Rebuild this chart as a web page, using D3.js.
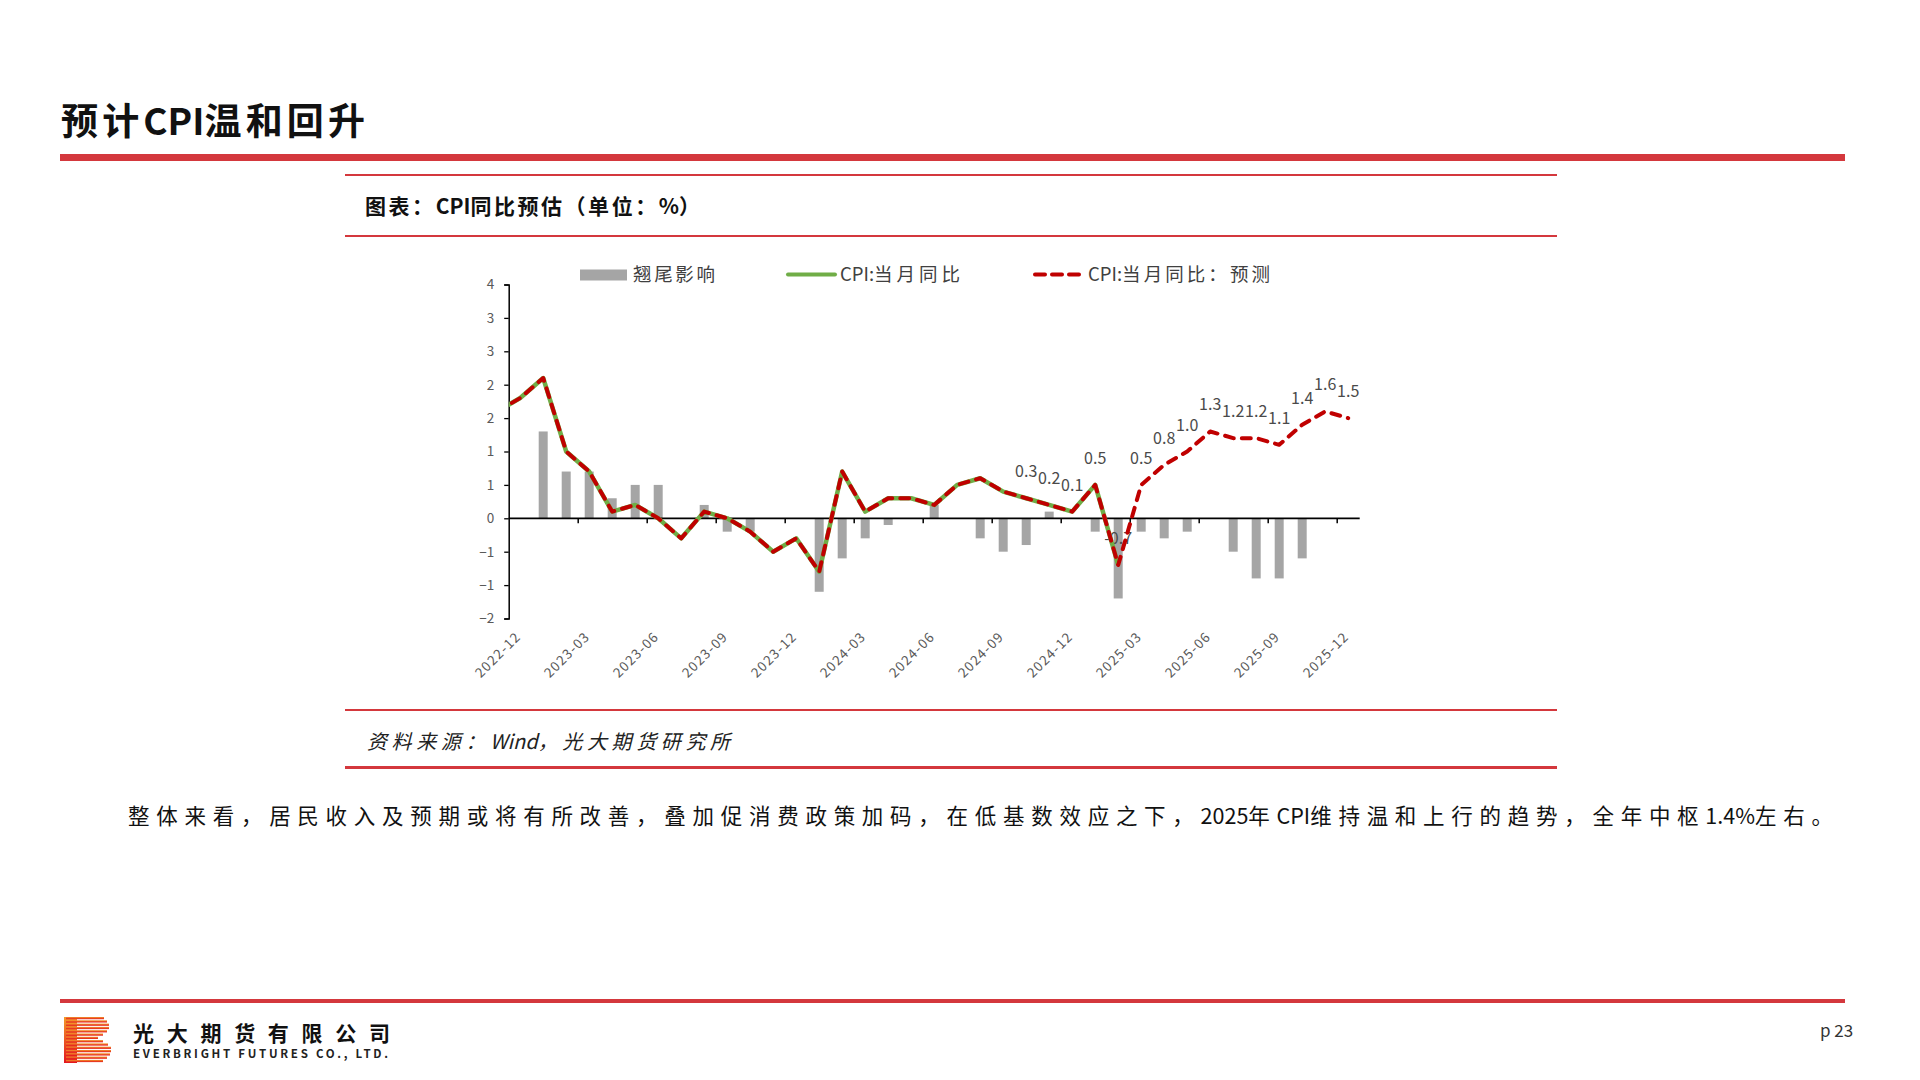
<!DOCTYPE html>
<html><head><meta charset="utf-8">
<script src="https://cdn.jsdelivr.net/npm/d3@7"></script>
<style>
body{margin:0;background:#fff}
svg{display:block}
text{font-family:"Noto Sans CJK SC","Noto Sans",sans-serif}
</style>
</head><body>
<svg id="c" width="1920" height="1080"></svg>
<script>
// ---------------- data ----------------
const pageTitle = "预计CPI温和回升";
const chartTitle = "图表：CPI同比预估（单位：%）";
const sourceText = "资料来源：Wind，光大期货研究所";
const bodyText = "整体来看，居民收入及预期或将有所改善，叠加促消费政策加码，在低基数效应之下，2025年CPI维持温和上行的趋势，全年中枢1.4%左右。";
const legendLabels = ["翘尾影响", "CPI:当月同比", "CPI:当月同比：预测"];

// monthly categories (2022-11 .. 2025-12)
const months = ["2022-11","2022-12",
  "2023-01","2023-02","2023-03","2023-04","2023-05","2023-06","2023-07","2023-08","2023-09","2023-10","2023-11","2023-12",
  "2024-01","2024-02","2024-03","2024-04","2024-05","2024-06","2024-07","2024-08","2024-09","2024-10","2024-11","2024-12",
  "2025-01","2025-02","2025-03","2025-04","2025-05","2025-06","2025-07","2025-08","2025-09","2025-10","2025-11","2025-12"];

// CPI:当月同比 (actual, 2022-11 .. 2025-02)
const cpiActual = [1.6, 1.8,
  2.1, 1.0, 0.7, 0.1, 0.2, 0.0, -0.3, 0.1, 0.0, -0.2, -0.5, -0.3,
  -0.8, 0.7, 0.1, 0.3, 0.3, 0.2, 0.5, 0.6, 0.4, 0.3, 0.2, 0.1,
  0.5, -0.7];

// CPI:当月同比：预测 (2022-11 .. 2025-12)
const cpiForecast = [1.6, 1.8,
  2.1, 1.0, 0.7, 0.1, 0.2, 0.0, -0.3, 0.1, 0.0, -0.2, -0.5, -0.3,
  -0.8, 0.7, 0.1, 0.3, 0.3, 0.2, 0.5, 0.6, 0.4, 0.3, 0.2, 0.1,
  0.5, -0.7, 0.5, 0.8, 1.0, 1.3, 1.2, 1.2, 1.1, 1.4, 1.6, 1.5];

// 翘尾影响 (2023-01 .. 2025-12)
const carryMonths = months.slice(2);
const carryover = [1.3, 0.7, 0.7, 0.3, 0.5, 0.5, 0, 0.2, -0.2, -0.2, 0, 0,
  -1.1, -0.6, -0.3, -0.1, 0, 0.2, 0, -0.3, -0.5, -0.4, 0.1, 0,
  -0.2, -1.2, -0.2, -0.3, -0.2, 0, -0.5, -0.9, -0.9, -0.6, 0, 0];

// data labels shown from this month on (forecast series)
const labelFrom = "2024-10";

const xTickLabels = ["2022-12","2023-03","2023-06","2023-09","2023-12","2024-03","2024-06",
  "2024-09","2024-12","2025-03","2025-06","2025-09","2025-12"];
const yTickValues = [-1.5,-1,-0.5,0,0.5,1,1.5,2,2.5,3,3.5];
const yTickLabels = ["−2","−1","−1","0","1","1","2","2","3","3","4"];

// ---------------- helpers ----------------
const mi = s => { const [y,m] = s.split("-").map(Number); return (y-2022)*12 + (m-12); };
const svg = d3.select("#c");
const RED = "#d4383d";
const isCJK = ch => /[\u3000-\u9fff\uff00-\uffef]/.test(ch);

// text whose CJK characters get extra spacing so the visible run spans targetW
function spacedText(parent, str, x, y, targetW, attrs) {
  const t = parent.append("text").attr("x",x).attr("y",y);
  Object.entries(attrs).forEach(([k,v])=>t.attr(k,v));
  const runs = [];
  for (const ch of str) {
    const c = isCJK(ch);
    if (runs.length && runs[runs.length-1].c===c) runs[runs.length-1].s += ch;
    else runs.push({c, s:ch});
  }
  const spans = runs.map(r=>t.append("tspan").text(r.s).datum(r));
  const w = t.node().getComputedTextLength();
  let n = runs.filter(r=>r.c).reduce((a,r)=>a+[...r.s].length,0);
  if (runs[runs.length-1].c) n -= 1;
  const s = Math.max(0,(targetW - w)/Math.max(1,n));
  spans.forEach(sp=>{ if (sp.datum().c) sp.attr("letter-spacing", s); });
  return t;
}

svg.append("rect").attr("width",1920).attr("height",1080).attr("fill","#fff");
const defs = svg.append("defs");

// page title
spacedText(svg, pageTitle, 61, 135, 304, {"font-size":37,"font-weight":700,"fill":"#111"});
svg.append("rect").attr("x",60).attr("y",154).attr("width",1785).attr("height",7).attr("fill",RED);

// chart frame lines
[175,236,710].forEach(yy=>svg.append("rect").attr("x",345).attr("y",yy-1).attr("width",1212).attr("height",2).attr("fill",RED));
svg.append("rect").attr("x",345).attr("y",766).attr("width",1212).attr("height",3).attr("fill",RED);

spacedText(svg, chartTitle, 365, 214, 335, {"font-size":21,"font-weight":700,"fill":"#111"});
spacedText(svg, sourceText, 367, 749, 363, {"font-size":20,"font-style":"italic","fill":"#222"});
spacedText(svg, bodyText, 128, 824, 1705, {"font-size":21.5,"fill":"#111"});

// ---------------- chart ----------------
const x = d3.scaleLinear().domain([0,37]).range([508.7,1359.7]);
const y = d3.scaleLinear().domain([-1.5,3.5]).range([618.5,284.5]);
const cx = m => x(mi(m)+0.5);

const g = svg.append("g");
defs.append("clipPath").attr("id","plot")
  .append("rect").attr("x",x(0)).attr("y",200).attr("width",x(37)-x(0)).attr("height",500);

// bars
g.selectAll("rect.bar").data(carryMonths.map((m,i)=>({m,v:carryover[i]})).filter(d=>d.v!==0))
  .enter().append("rect").attr("class","bar")
  .attr("x",d=>cx(d.m)-4.5).attr("width",9)
  .attr("y",d=>y(Math.max(0,d.v))).attr("height",d=>Math.abs(y(d.v)-y(0)))
  .attr("fill","#a5a5a5");

// y axis
const yAxis = d3.axisLeft(y).tickValues(yTickValues).tickSize(4.5).tickPadding(10)
  .tickFormat((d,i)=>yTickLabels[i]);
const ya = g.append("g").attr("transform",`translate(${x(0)},0)`).call(yAxis);
ya.select(".domain").attr("stroke","#000").attr("stroke-width",1.5);
ya.selectAll(".tick line").attr("stroke","#000").attr("stroke-width",1.3);
ya.selectAll(".tick text").attr("fill","#595959").attr("font-size",13.5)
  .attr("font-family","'Liberation Sans',sans-serif");

// x axis at 0
const tickIdx = xTickLabels.map(mi);
const xAxis = d3.axisBottom(x).tickValues(tickIdx).tickSize(5).tickFormat("");
const xa = g.append("g").attr("transform",`translate(0,${y(0)})`).call(xAxis);
xa.select(".domain").attr("stroke","#000").attr("stroke-width",1.8).attr("d",`M${x(0)},0H${x(37)}`);
xa.selectAll(".tick line").attr("stroke","#000").attr("stroke-width",1.5);
xa.selectAll(".tick").filter((d,i)=>i===0).select("line").remove();

// x labels at bottom
g.selectAll("text.xl").data(xTickLabels).enter().append("text").attr("class","xl")
  .attr("transform",d=>`translate(${x(mi(d))+13},${y(-1.5)+19}) rotate(-45)`)
  .attr("text-anchor","end").attr("font-size",13.5).attr("fill","#595959")
  .attr("letter-spacing",1.2).attr("font-family","'Liberation Sans',sans-serif")
  .text(d=>d);

// data labels
const fcData = months.map((m,i)=>({m,v:cpiForecast[i]}));
const actData = months.slice(0,cpiActual.length).map((m,i)=>({m,v:cpiActual[i]}));
g.selectAll("text.dl").data(fcData.filter(d=>mi(d.m)>=mi(labelFrom))).enter().append("text")
  .attr("class","dl").attr("x",d=>cx(d.m)).attr("y",d=>y(d.v)-21)
  .attr("text-anchor","middle").attr("font-size",16).attr("fill","#4a4a4a")
  .text(d=>d3.format(".1f")(d.v).replace("−","-"));

// lines
const line = d3.line().x(d=>cx(d.m)).y(d=>y(d.v));
g.append("path").datum(actData).attr("d",line).attr("clip-path","url(#plot)")
  .attr("fill","none").attr("stroke","#70ad47").attr("stroke-width",4.5).attr("stroke-linejoin","round");
g.append("path").datum(fcData).attr("d",line).attr("clip-path","url(#plot)")
  .attr("fill","none").attr("stroke","#c00000").attr("stroke-width",4).attr("stroke-dasharray","9,8")
  .attr("stroke-linecap","round").attr("stroke-linejoin","round");

// legend
const lg = svg.append("g");
lg.append("rect").attr("x",580).attr("y",269.5).attr("width",47).attr("height",11).attr("fill","#a5a5a5");
lg.append("line").attr("x1",788).attr("x2",835).attr("y1",274.5).attr("y2",274.5)
  .attr("stroke","#70ad47").attr("stroke-width",4).attr("stroke-linecap","round");
lg.append("line").attr("x1",1035).attr("x2",1081).attr("y1",274.5).attr("y2",274.5)
  .attr("stroke","#c00000").attr("stroke-width",4).attr("stroke-dasharray","10,7").attr("stroke-linecap","round");
const legendPos = [[633,82],[840,120],[1088,182]];
legendLabels.forEach((t,i)=>{
  spacedText(lg, t, legendPos[i][0], 281, legendPos[i][1], {"font-size":18.5,"fill":"#404040"});
});

// ---------------- footer ----------------
svg.append("rect").attr("x",60).attr("y",999).attr("width",1785).attr("height",4).attr("fill",RED);
const grad = defs.append("linearGradient").attr("id","lgrad").attr("x1",0).attr("y1",0).attr("x2",0).attr("y2",1);
grad.append("stop").attr("offset","0%").attr("stop-color","#f39a2a");
grad.append("stop").attr("offset","100%").attr("stop-color","#e3161e");
const logo = svg.append("g");
logo.append("rect").attr("x",64).attr("y",1017).attr("width",13).attr("height",46).attr("fill","url(#lgrad)");
const stripeRight = [104,107,109,109,107,103,98,103,108,111,111,110,107,103];
stripeRight.forEach((r,i)=>{
  logo.append("rect").attr("x",66).attr("y",1017+i*3.3).attr("width",r-66).attr("height",2.2)
    .attr("fill","url(#lgrad)");
});
spacedText(svg, "光大期货有限公司", 133, 1041, 257, {"font-size":21,"font-weight":700,"fill":"#111"});
svg.append("text").attr("x",133).attr("y",1057.5).text("EVERBRIGHT FUTURES CO., LTD.")
  .attr("font-size",11.5).attr("font-weight",700).attr("fill","#222")
  .attr("font-family","'Liberation Sans',sans-serif")
  .attr("textLength",255).attr("lengthAdjust","spacing");
svg.append("text").attr("x",1820).attr("y",1037).text("p 23")
  .attr("font-size",17).attr("fill","#333").attr("font-family","'Liberation Sans',sans-serif");
</script>
</body></html>
